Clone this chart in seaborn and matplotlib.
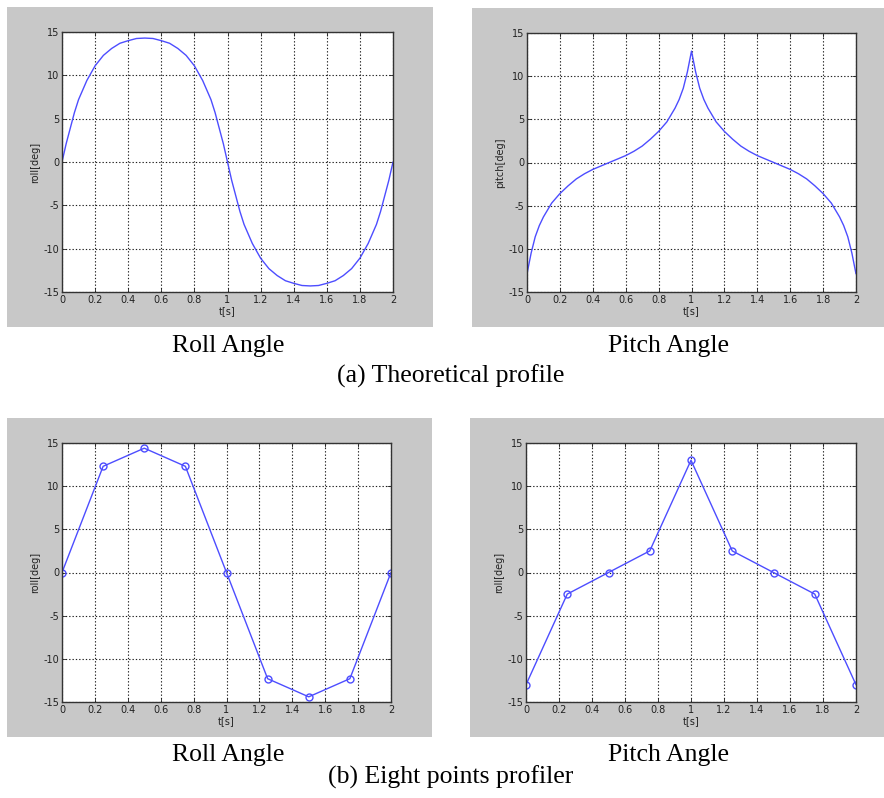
import numpy as np
import pandas as pd
import seaborn as sns
from matplotlib import pyplot as plt
from matplotlib.patches import Rectangle

# theoretical profile
t_theory = [0.0, 0.025, 0.05, 0.075, 0.1, 0.15, 0.2, 0.25, 0.3, 0.35, 0.4, 0.45, 0.5,
            0.55, 0.6, 0.65, 0.7, 0.75, 0.8, 0.85, 0.9, 0.925, 0.95, 0.975, 1.0,
            1.025, 1.05, 1.075, 1.1, 1.15, 1.2, 1.25, 1.3, 1.35, 1.4, 1.45, 1.5,
            1.55, 1.6, 1.65, 1.7, 1.75, 1.8, 1.85, 1.9, 1.925, 1.95, 1.975, 2.0]
roll_theory = [0.0, 2.1, 3.9, 5.7, 7.2, 9.4, 11.1, 12.3, 13.1, 13.7, 14.0, 14.25, 14.3,
               14.25, 14.0, 13.7, 13.1, 12.3, 11.1, 9.4, 7.2, 5.7, 3.9, 2.1, 0.0,
               -2.1, -3.9, -5.7, -7.2, -9.4, -11.1, -12.3, -13.1, -13.7, -14.0, -14.25, -14.3,
               -14.25, -14.0, -13.7, -13.1, -12.3, -11.1, -9.4, -7.2, -5.7, -3.9, -2.1, 0.0]
pitch_theory = [-12.9, -10.5, -8.6, -7.3, -6.3, -4.7, -3.6, -2.7, -1.9, -1.3, -0.8, -0.4, 0.0,
                0.4, 0.8, 1.3, 1.9, 2.7, 3.6, 4.7, 6.3, 7.3, 8.6, 10.5, 12.9,
                10.5, 8.6, 7.3, 6.3, 4.7, 3.6, 2.7, 1.9, 1.3, 0.8, 0.4, 0.0,
                -0.4, -0.8, -1.3, -1.9, -2.7, -3.6, -4.7, -6.3, -7.3, -8.6, -10.5, -12.9]

# eight points profiler
t_eight = [0.0, 0.25, 0.5, 0.75, 1.0, 1.25, 1.5, 1.75, 2.0]
roll_eight = [0.0, 12.3, 14.4, 12.3, 0.0, -12.3, -14.4, -12.3, 0.0]
pitch_eight = [-13.0, -2.5, 0.0, 2.5, 13.0, 2.5, 0.0, -2.5, -13.0]

x_ticks = [0, 0.2, 0.4, 0.6, 0.8, 1.0, 1.2, 1.4, 1.6, 1.8, 2.0]
x_ticklabels = ["0", "0.2", "0.4", "0.6", "0.8", "1", "1.2", "1.4", "1.6", "1.8", "2"]
y_ticks = [-15, -10, -5, 0, 5, 10, 15]

sns.set_style("white")
plt.rcParams["font.family"] = ["DejaVu Sans"]
plt.rcParams["axes.unicode_minus"] = False

W, H = 884, 798
fig = plt.figure(figsize=(W / 100, H / 100), dpi=100)
fig.patch.set_facecolor("white")

gray = "#c8c8c8"
line_col = "#4d4dff"


def px_rect(x0, y0, x1, y1):
    # pixel box (top-left origin) -> figure fraction
    return [x0 / W, (H - y1) / H, (x1 - x0) / W, (y1 - y0) / H]


def matlab_axes(box, ylabel):
    ax = fig.add_axes(px_rect(*box))
    ax.set_facecolor("white")
    ax.set_xlim(0, 2)
    ax.set_ylim(-15, 15)
    ax.set_xticks(x_ticks)
    ax.set_xticklabels(x_ticklabels)
    ax.set_yticks(y_ticks)
    ax.grid(True, color="#202020", linestyle=(0, (1.2, 1.8)), linewidth=0.8)
    ax.tick_params(direction="in", length=3, width=0.6, labelsize=7,
                   colors="#222222", pad=2, top=True, right=True,
                   bottom=True, left=True, labeltop=False, labelright=False)
    for s in ax.spines.values():
        s.set_color("#333333")
        s.set_linewidth(1.0)
        s.set_visible(True)
    return ax


# gray panel backgrounds
for x0, y0, x1, y1 in [(7, 7, 433, 327), (472, 8, 884, 327),
                       (7, 418, 432, 737), (470, 418, 884, 737)]:
    fig.patches.append(Rectangle((x0 / W, (H - y1) / H), (x1 - x0) / W, (y1 - y0) / H,
                                 transform=fig.transFigure, facecolor=gray,
                                 edgecolor="none", zorder=-10))

df_theory = pd.DataFrame({"t": t_theory, "roll": roll_theory, "pitch": pitch_theory})
df_eight = pd.DataFrame({"t": t_eight, "roll": roll_eight, "pitch": pitch_eight})

ax1 = matlab_axes((62, 32, 393, 292), "roll[deg]")
sns.lineplot(data=df_theory, x="t", y="roll", ax=ax1, color=line_col, linewidth=1.0,
             estimator=None, sort=False)
ax2 = matlab_axes((527, 33, 856, 292), "pitch[deg]")
sns.lineplot(data=df_theory, x="t", y="pitch", ax=ax2, color=line_col, linewidth=1.0,
             estimator=None, sort=False)
ax3 = matlab_axes((62, 443, 391, 702), "roll[deg]")
sns.lineplot(data=df_eight, x="t", y="roll", ax=ax3, color=line_col, linewidth=1.0,
             estimator=None, sort=False, marker="o", markersize=5,
             markerfacecolor="none", markeredgecolor=line_col, markeredgewidth=1.0)
ax4 = matlab_axes((526, 443, 856, 702), "roll[deg]")
sns.lineplot(data=df_eight, x="t", y="pitch", ax=ax4, color=line_col, linewidth=1.0,
             estimator=None, sort=False, marker="o", markersize=5,
             markerfacecolor="none", markeredgecolor=line_col, markeredgewidth=1.0)

ylabels = ["roll[deg]", "pitch[deg]", "roll[deg]", "roll[deg]"]
for ax, yl in zip([ax1, ax2, ax3, ax4], ylabels):
    ax.set_xlabel("t[s]", fontsize=7, labelpad=1, color="#222222")
    ax.set_ylabel(yl, fontsize=7, labelpad=2, color="#222222")

# captions
serif = ["Liberation Serif", "DejaVu Serif"]
cap = dict(fontsize=18.5, family=serif, ha="center", va="baseline", color="black")
fig.text(228 / W, 1 - 352 / H, "Roll Angle", **cap)
fig.text(669 / W, 1 - 352 / H, "Pitch Angle", **cap)
fig.text(451 / W, 1 - 383 / H, "(a) Theoretical profile", **cap)
fig.text(228 / W, 1 - 761 / H, "Roll Angle", **cap)
fig.text(669 / W, 1 - 761 / H, "Pitch Angle", **cap)
fig.text(451 / W, 1 - 784 / H, "(b) Eight points profiler", **cap)

fig.savefig("out.png", dpi=100)
plt.close(fig)
